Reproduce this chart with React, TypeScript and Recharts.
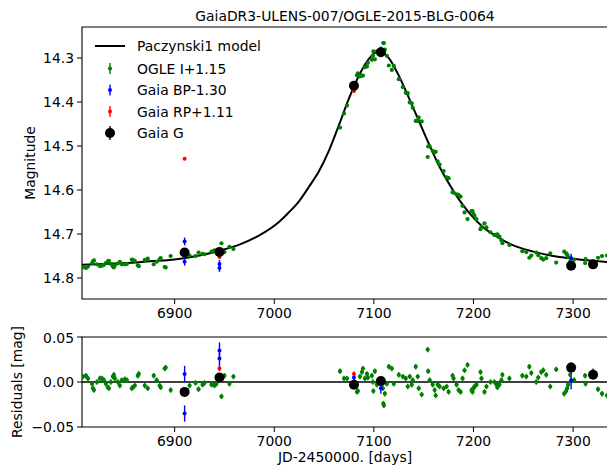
import React from 'react';
import {
  ComposedChart,
  Line,
  Scatter,
  XAxis,
  YAxis,
  ErrorBar,
  ReferenceArea,
  ReferenceLine,
} from 'recharts';

const FONT = '"DejaVu Sans", sans-serif';
const X_DOMAIN: [number, number] = [6807, 7335];
const X_TICKS = [6900, 7000, 7100, 7200, 7300];
const MAG_TICKS = [14.3, 14.4, 14.5, 14.6, 14.7, 14.8];
const RES_TICKS = [-0.05, 0, 0.05];

// Paczynski1 model
const modelDay = [6807, 6830, 6850, 6875, 6900, 6925, 6945, 6965, 6985, 7005, 7015, 7025, 7035, 7045, 7055, 7065, 7075, 7085, 7095, 7105, 7115, 7125, 7135, 7145, 7155, 7165, 7175, 7185, 7195, 7210, 7225, 7240, 7260, 7280, 7300, 7320, 7335];
const modelMag = [14.770, 14.768, 14.766, 14.762, 14.758, 14.749, 14.738, 14.724, 14.703, 14.672, 14.650, 14.625, 14.592, 14.557, 14.510, 14.452, 14.392, 14.340, 14.302, 14.284, 14.300, 14.340, 14.390, 14.442, 14.494, 14.543, 14.584, 14.620, 14.650, 14.685, 14.708, 14.726, 14.740, 14.750, 14.756, 14.761, 14.764];

// OGLE I+1.15
const ogleDay = [6808, 6811, 6813, 6817, 6818, 6819, 6822, 6825, 6827, 6829, 6831, 6833, 6834, 6836, 6838, 6839, 6840, 6843, 6845, 6847, 6850, 6852, 6857, 6858, 6860, 6863, 6864, 6870, 6873, 6879, 6882, 6885, 6886, 6890, 6891, 6896, 6911, 6915, 6921, 6924, 6928, 6930, 6937, 6938, 6940, 6942, 6947, 6950, 6955, 6959,
  7066, 7070, 7073, 7083, 7084, 7086, 7088, 7089, 7091, 7093, 7094, 7098, 7099, 7099.5, 7101, 7103, 7109, 7109.5, 7110, 7111, 7113, 7115, 7118, 7120, 7125, 7129, 7132, 7134, 7136, 7138, 7139, 7142, 7144, 7145, 7148, 7154, 7154.5, 7156, 7159, 7161, 7162, 7164, 7166, 7170, 7173, 7175, 7179, 7180, 7183, 7185, 7187, 7189, 7191, 7194, 7198, 7199, 7200, 7201, 7203, 7207, 7208, 7211, 7213, 7217, 7221, 7223, 7224, 7226, 7228, 7229, 7236, 7249, 7253, 7256, 7258, 7263, 7265, 7268, 7270, 7273, 7277, 7283, 7291, 7293, 7294, 7295, 7297, 7301, 7312, 7312.5, 7325, 7329, 7334];
const ogleMag = [14.776, 14.777, 14.774, 14.767, 14.762, 14.760, 14.769, 14.773, 14.772, 14.770, 14.766, 14.762, 14.761, 14.768, 14.774, 14.776, 14.771, 14.767, 14.763, 14.769, 14.769, 14.768, 14.758, 14.759, 14.761, 14.771, 14.773, 14.759, 14.756, 14.769, 14.763, 14.757, 14.755, 14.775, 14.776, 14.750, 14.741, 14.749, 14.750, 14.742, 14.745, 14.746, 14.740, 14.740, 14.737, 14.738, 14.721, 14.741, 14.729, 14.734,
  14.458, 14.426, 14.408, 14.339, 14.335, 14.342, 14.340, 14.340, 14.321, 14.319, 14.311, 14.304, 14.295, 14.285, 14.303, 14.285, 14.283, 14.266, 14.266, 14.281, 14.295, 14.317, 14.327, 14.318, 14.348, 14.366, 14.379, 14.380, 14.401, 14.403, 14.413, 14.443, 14.443, 14.435, 14.444, 14.525, 14.501, 14.501, 14.511, 14.514, 14.513, 14.535, 14.542, 14.557, 14.571, 14.573, 14.605, 14.606, 14.610, 14.611, 14.615, 14.636, 14.651, 14.666, 14.648, 14.648, 14.655, 14.659, 14.666, 14.689, 14.684, 14.676, 14.685, 14.696, 14.702, 14.702, 14.701, 14.706, 14.714, 14.721, 14.725, 14.739, 14.741, 14.754, 14.749, 14.742, 14.748, 14.755, 14.758, 14.755, 14.744, 14.765, 14.740, 14.744, 14.747, 14.752, 14.763, 14.758, 14.766, 14.757, 14.754, 14.750, 14.749];
const ogleRes = [0.006, 0.007, 0.004, -0.002, -0.007, -0.009, 0.000, 0.004, 0.004, 0.002, -0.002, -0.006, -0.007, 0.000, 0.006, 0.008, 0.004, 0.000, -0.004, 0.002, 0.003, 0.002, -0.007, -0.006, -0.004, 0.007, 0.009, -0.004, -0.007, 0.007, 0.002, -0.004, -0.006, 0.015, 0.016, -0.009, -0.013, -0.004, -0.001, -0.008, -0.003, -0.001, -0.003, -0.002, -0.004, -0.002, -0.016, 0.007, -0.002, 0.006,
  0.012, 0.004, 0.004, -0.011, -0.010, 0.006, 0.011, 0.015, 0.004, 0.009, 0.005, 0.007, 0.000, -0.010, 0.012, -0.003, -0.007, -0.024, -0.026, -0.013, -0.002, 0.017, 0.015, -0.002, 0.008, 0.006, 0.004, -0.005, 0.006, -0.003, 0.002, 0.017, 0.006, -0.007, -0.014, 0.036, 0.012, 0.002, -0.003, -0.009, -0.015, -0.003, -0.005, -0.007, -0.005, -0.011, 0.007, 0.004, -0.003, -0.009, -0.011, 0.004, 0.013, 0.019, -0.009, -0.011, -0.007, -0.005, -0.003, 0.011, 0.004, -0.011, -0.005, 0.000, 0.000, -0.003, -0.006, -0.003, 0.002, 0.008, 0.004, 0.007, 0.006, 0.017, 0.010, 0.000, 0.005, 0.011, 0.013, 0.008, -0.005, 0.014, -0.013, -0.010, -0.007, -0.003, 0.008, 0.002, 0.007, -0.002, -0.008, -0.013, -0.015];
const OGLE_ERR = 0.003;

// Gaia BP-1.30
const bpDay = [6910, 6910, 6945, 6945, 7080, 7107, 7298];
const bpMag = [14.717, 14.763, 14.768, 14.777, 14.371, 14.280, 14.755];
const bpRes = [0.009, -0.035, 0.035, 0.026, 0.005, -0.007, 0.002];
const bpErr = [0.009, 0.009, 0.009, 0.009, 0.004, 0.006, 0.010];

// Gaia RP+1.11
const rpDay = [6910, 6945, 7080, 7298, 7320];
const rpMag = [14.529, 14.752, 14.375, 14.774, 14.773];
const rpErr = [0.002, 0.003, 0.003, 0.004, 0.003];
const rpResDay = [6945, 7080, 7298, 7320];
const rpRes = [0.015, 0.009, 0.018, 0.012];
const rpResErr = [0.003, 0.003, 0.004, 0.003];

// Gaia G
const gDay = [6910, 6945, 7080, 7107, 7298, 7320];
const gMag = [14.742, 14.741, 14.363, 14.287, 14.772, 14.769];
const gRes = [-0.011, 0.005, -0.003, 0.001, 0.016, 0.008];
const gErr = [0.002, 0.002, 0.002, 0.002, 0.002, 0.002];

const pts = (xs: number[], ys: number[], es: number[] | number) =>
  xs.map((x, i) => ({ x, y: ys[i], e: Array.isArray(es) ? es[i] : es }));

const modelData = modelDay.map((x, i) => ({ x, y: modelMag[i] }));

const dot = (r: number, color: string) => (p: any) =>
  <circle cx={p.cx} cy={p.cy} r={r} fill={color} />;

const tickStyle = { fill: '#000', fontSize: 13.9, fontFamily: FONT };

const series = (data: any[], color: string, r: number, key: string) => (
  <Scatter key={key} data={data} dataKey="y" fill={color} shape={dot(r, color)} isAnimationActive={false}>
    <ErrorBar dataKey="e" direction="y" width={0} stroke={color} strokeWidth={1.4} />
  </Scatter>
);

const TopPanel = () => (
  <ComposedChart width={610} height={330} margin={{ top: 27, right: 2, bottom: 0, left: 0 }}>
    <XAxis type="number" dataKey="x" domain={X_DOMAIN} ticks={X_TICKS} allowDataOverflow
      height={31} tickSize={5} tickMargin={4} axisLine={false} tickLine={{ stroke: '#000' }} tick={tickStyle} />
    <YAxis type="number" dataKey="y" domain={[14.2295, 14.8477]} reversed ticks={MAG_TICKS} allowDataOverflow
      width={82} tickSize={5} tickMargin={3} axisLine={false} tickLine={{ stroke: '#000' }} tick={tickStyle}
      tickFormatter={(v: number) => v.toFixed(1)} />
    <ReferenceArea x1={X_DOMAIN[0]} x2={X_DOMAIN[1]} y1={14.2295} y2={14.8477} fill="none" stroke="#000" strokeWidth={1.1} fillOpacity={0} strokeOpacity={1} />
    <Line data={modelData} dataKey="y" type="monotone" stroke="#000" strokeWidth={2} dot={false} isAnimationActive={false} />
    {series(pts(ogleDay, ogleMag, OGLE_ERR), '#008000', 2.1, 'ogle')}
    {series(pts(bpDay, bpMag, bpErr), '#0000ff', 2.0, 'bp')}
    {series(pts(rpDay, rpMag, rpErr), '#ff0000', 2.0, 'rp')}
    {series(pts(gDay, gMag, gErr), '#000000', 5, 'g')}
  </ComposedChart>
);

const ResidualPanel = () => (
  <ComposedChart width={610} height={136} margin={{ top: 7, right: 2, bottom: 0, left: 0 }}>
    <XAxis type="number" dataKey="x" domain={X_DOMAIN} ticks={X_TICKS} allowDataOverflow
      height={39} tickSize={5} tickMargin={4} axisLine={false} tickLine={{ stroke: '#000' }} tick={tickStyle} />
    <YAxis type="number" dataKey="y" domain={[-0.05, 0.05]} ticks={RES_TICKS} allowDataOverflow
      width={82} tickSize={5} tickMargin={3} axisLine={false} tickLine={{ stroke: '#000' }} tick={tickStyle}
      tickFormatter={(v: number) => v.toFixed(2).replace('-', '\u2212')} />
    <ReferenceArea x1={X_DOMAIN[0]} x2={X_DOMAIN[1]} y1={-0.05} y2={0.05} fill="none" stroke="#000" strokeWidth={1.1} fillOpacity={0} strokeOpacity={1} />
    <ReferenceLine y={0} stroke="#000" strokeWidth={1.5} />
    {series(pts(ogleDay, ogleRes, OGLE_ERR), '#008000', 2.1, 'ogle')}
    {series(pts(bpDay, bpRes, bpErr), '#0000ff', 2.0, 'bp')}
    {series(pts(rpResDay, rpRes, rpResErr), '#ff0000', 2.0, 'rp')}
    {series(pts(gDay, gRes, gErr), '#000000', 5, 'g')}
  </ComposedChart>
);

const legendItems = [
  { label: 'OGLE I+1.15', color: '#008000', r: 2.1, y: 68.5 },
  { label: 'Gaia BP-1.30', color: '#0000ff', r: 2.0, y: 90 },
  { label: 'Gaia RP+1.11', color: '#ff0000', r: 2.0, y: 111.5 },
  { label: 'Gaia G', color: '#000000', r: 5, y: 133 },
];

export default function App() {
  return (
    <div style={{ position: 'absolute', left: 0, top: 0, width: 607, height: 466, overflow: 'hidden', background: '#fff', fontFamily: FONT }}>
      <div style={{ position: 'absolute', left: 0, top: 0 }}><TopPanel /></div>
      <div style={{ position: 'absolute', left: 0, top: 330 }}><ResidualPanel /></div>
      <svg width={607} height={466} style={{ position: 'absolute', left: 0, top: 0, pointerEvents: 'none' }}
        fontFamily={FONT} fontSize={13.9}>
        <text x={345} y={21} textAnchor="middle" fill="#000">GaiaDR3-ULENS-007/OGLE-2015-BLG-0064</text>
        <text transform="translate(30,163) rotate(-90)" textAnchor="middle" dominantBaseline="central" fill="#000">Magnitude</text>
        <text transform="translate(17,382) rotate(-90)" textAnchor="middle" dominantBaseline="central" fill="#000">Residuals [mag]</text>
        <text x={345} y={462} textAnchor="middle" fill="#000">JD-2450000. [days]</text>
        <line x1={95} x2={125} y1={46} y2={46} stroke="#000" strokeWidth={2} />
        <text x={137} y={46} dominantBaseline="central" fill="#000">Paczynski1 model</text>
        {legendItems.map((it) => (
          <g key={it.label}>
            <line x1={110} x2={110} y1={it.y - (it.r > 3 ? 7 : 5.5)} y2={it.y + (it.r > 3 ? 7 : 5.5)} stroke={it.color} strokeWidth={1.4} />
            <circle cx={110} cy={it.y} r={it.r} fill={it.color} />
            <text x={137} y={it.y} dominantBaseline="central" fill="#000">{it.label}</text>
          </g>
        ))}
      </svg>
    </div>
  );
}
